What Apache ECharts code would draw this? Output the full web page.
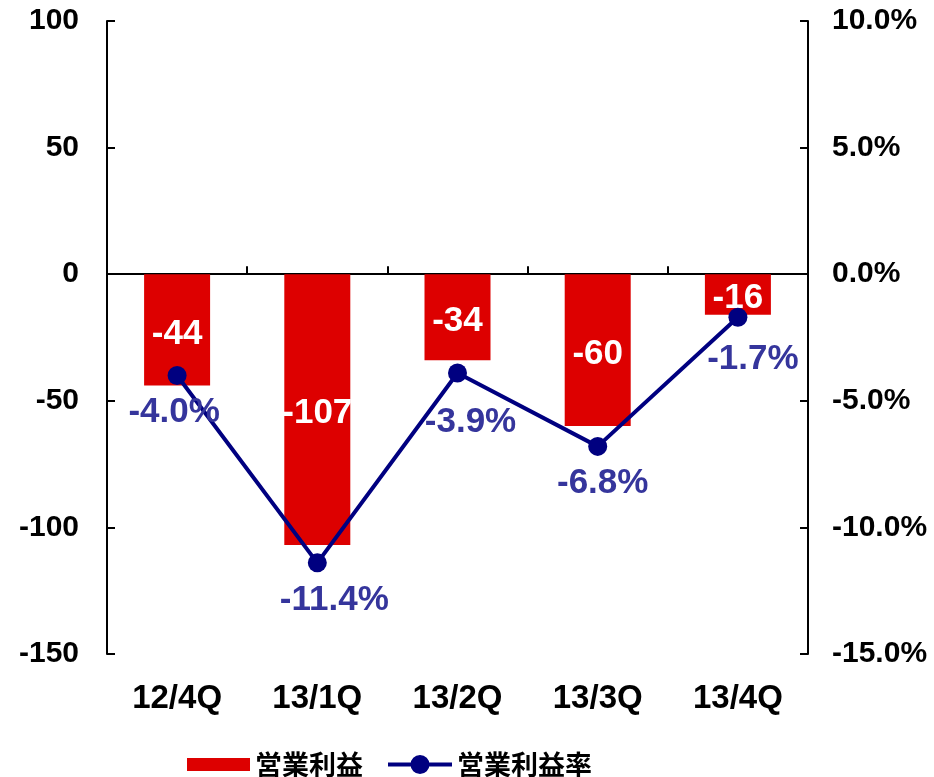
<!DOCTYPE html>
<html><head><meta charset="utf-8">
<script src="https://cdn.jsdelivr.net/npm/echarts@6/dist/echarts.min.js"></script>
<style>html,body{margin:0;padding:0;background:#fff}#c{width:934px;height:777px}</style>
</head><body><div id="c"></div>
<script>
const categories = ['12/4Q','13/1Q','13/2Q','13/3Q','13/4Q'];
const operatingProfit = [-44, -107, -34, -60, -16];
const operatingMargin = [-4.0, -11.4, -3.9, -6.8, -1.7];
const seriesNames = ['営業利益','営業利益率'];

const FONT = '"Liberation Sans", Arial, sans-serif';
const CJK = '"Noto Sans CJK JP", "Liberation Sans", sans-serif';
const chart = echarts.init(document.getElementById('c'), null, {renderer:'canvas'});
const lineLabelOffsets = [[-3,0],[17,0],[13,12],[5,0],[15,5]];
const legendText = {fontFamily:CJK, fontWeight:'bold', fontSize:27, color:'#000'};
chart.setOption({
  animation:false,
  grid:{left:107, right:126, top:21, bottom:123, containLabel:false},
  legend:[
    {left:182, top:746, itemWidth:63, itemHeight:13, textStyle:legendText,
     data:[{name:seriesNames[0], icon:'rect'}]},
    {left:383, top:746, itemWidth:64, itemHeight:19, textStyle:legendText,
     data:[{name:seriesNames[1],
       icon:'path://M0,7.5H64V11.5H0Z M22.5,9.5A9.5,9.5 0 1 1 41.5,9.5A9.5,9.5 0 1 1 22.5,9.5Z'}]}
  ],
  xAxis:[
    {type:'category', data:categories, position:'bottom',
     axisLine:{onZero:true, lineStyle:{color:'#000', width:2}},
     axisTick:{show:true, inside:true, length:8, lineStyle:{color:'#000', width:2}},
     axisLabel:{show:false}},
    {type:'category', data:categories, position:'bottom',
     axisLine:{show:false, onZero:false}, axisTick:{show:false},
     axisLabel:{show:true, margin:28, fontFamily:FONT, fontWeight:'bold', fontSize:33, color:'#000'}}
  ],
  yAxis:[
    {type:'value', min:-150, max:100, interval:50, position:'left',
     splitLine:{show:false},
     axisLine:{show:true, lineStyle:{color:'#000', width:2}},
     axisTick:{show:true, inside:true, length:8, lineStyle:{color:'#000', width:2}},
     axisLabel:{margin:28, fontFamily:FONT, fontWeight:'bold', fontSize:30, color:'#000'}},
    {type:'value', min:-15, max:10, interval:5, position:'right',
     splitLine:{show:false},
     axisLine:{show:true, lineStyle:{color:'#000', width:2}},
     axisTick:{show:true, inside:true, length:8, lineStyle:{color:'#000', width:2}},
     axisLabel:{margin:24, fontFamily:FONT, fontWeight:'bold', fontSize:30, color:'#000',
       formatter:v=>v.toFixed(1)+'%'}}
  ],
  series:[
    {name:seriesNames[0], type:'bar', xAxisIndex:0, yAxisIndex:0, data:operatingProfit,
     barWidth:66, itemStyle:{color:'#dd0000'},
     label:{show:true, position:'inside', offset:[0,4], fontFamily:FONT, fontWeight:'bold', fontSize:35, color:'#fff'}},
    {name:seriesNames[1], type:'line', xAxisIndex:0, yAxisIndex:1,
     data:operatingMargin.map((v,i)=>({value:v, label:{offset:lineLabelOffsets[i]}})),
     symbol:'circle', symbolSize:19, lineStyle:{color:'#000080', width:4},
     itemStyle:{color:'#000080'},
     label:{show:true, position:'bottom', distance:10, fontFamily:FONT, fontWeight:'bold', fontSize:35, color:'#35359c',
       formatter:p=>p.value.toFixed(1)+'%'}}
  ]
});
</script></body></html>
